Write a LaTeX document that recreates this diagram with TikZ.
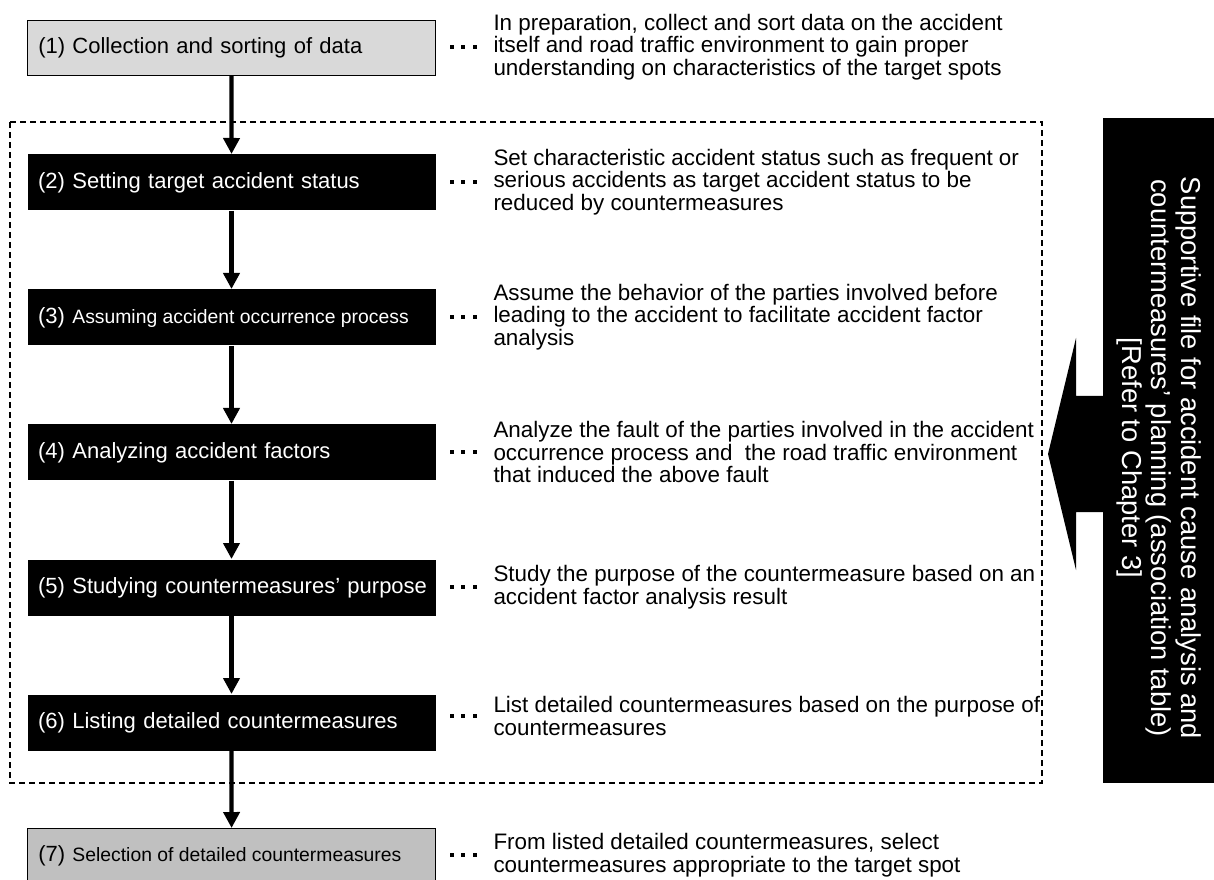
\documentclass[tikz,border=0pt]{standalone}
\usepackage{fontspec}
\setmainfont{Liberation Sans}
\usetikzlibrary{arrows.meta}
\definecolor{lightgrey}{HTML}{D9D9D9}
\definecolor{midgrey}{HTML}{C0C0C0}
\newcommand\subtext[1]{{\fontsize{14.5}{16}\selectfont\spaceskip=0pt\relax #1}}
\tikzset{every picture/.style={line width=0.75pt}}

\begin{document}
\begin{tikzpicture}[x=0.75pt,y=-0.75pt,
  stage/.style={anchor=north west, minimum width=306pt, minimum height=42pt,
    inner xsep=5pt, text width=296pt, align=left, font=\fontsize{16.5}{19}\selectfont},
  greystage/.style={stage, draw=black, line width=0.9pt},
  darkstage/.style={stage, fill=black, text=white},
  note/.style={anchor=west, align=left, inner sep=0pt, font=\fontsize{16.8}{17}\selectfont},
  flow/.style={line width=3.2pt, -{Triangle[width=12pt,length=12pt]}},
  sidetext/.style={rotate=-90, text=white, align=center, inner sep=0pt, font=\fontsize{20.5}{22}\selectfont}]
\useasboundingbox (0,0) rectangle (1214,880);
% frame around steps (2)-(6)
\draw[line width=1.1pt, dash pattern=on 4.5pt off 3pt] (10,122) rectangle (1042,783);
% steps
\node[greystage, fill=lightgrey, minimum height=41.25pt] (b1) at (27,20) {\hspace*{3pt}(1) Collection and sorting of data};
\node[darkstage] (b2) at (27,154) {\hspace*{3pt}(2) Setting target accident status};
\node[darkstage] (b3) at (27,289) {\hspace*{3pt}(3) \subtext{Assuming accident occurrence process}};
\node[darkstage] (b4) at (27,424) {\hspace*{3pt}(4) Analyzing accident factors};
\node[darkstage] (b5) at (27,559) {\hspace*{3pt}(5) Studying countermeasures’ purpose};
\node[darkstage] (b6) at (27,694) {\hspace*{3pt}(6) Listing detailed countermeasures};
\node[greystage, fill=midgrey, minimum height=40.5pt] (b7) at (27,828) {\hspace*{3pt}(7) \subtext{Selection of detailed countermeasures}};
\foreach \a/\b in {b1/b2,b2/b3,b3/b4,b4/b5,b5/b6,b6/b7}
  \draw[flow] (\a) -- (\b);
% explanations
\node[note] (d1) at (493,47) {In preparation, collect and sort data on the accident\\itself and road traffic environment to gain proper\\understanding on characteristics of the target spots};
\node[note] (d2) at (493,182) {Set characteristic accident status such as frequent or\\serious accidents as target accident status to be\\reduced by countermeasures};
\node[note] (d3) at (493,317) {Assume the behavior of the parties involved before\\leading to the accident to facilitate accident factor\\analysis};
\node[note] (d4) at (493,452) {Analyze the fault of the parties involved in the accident\\occurrence process and\ \ the road traffic environment\\that induced the above fault};
\node[note] (d5) at (493,587) {Study the purpose of the countermeasure based on an\\accident factor analysis result};
\node[note] (d6) at (493,716) {List detailed countermeasures based on the purpose of\\countermeasures};
\node[note] (d7) at (493,855) {From listed detailed countermeasures, select\\countermeasures appropriate to the target spot};
\foreach \n in {1,...,7}
  \foreach \dx in {-43,-32,-20}
    \fill ([xshift={\dx*0.75pt}, yshift=-1.5pt]d\n.west) rectangle +(4,-4);
% supporting file
\fill (1103,118) rectangle (1214,783);
\node[sidetext] (side) at (1159,458)
  {Supportive file for accident cause analysis and\\countermeasures’ planning (association table)\\{[}Refer to Chapter 3{]}};
\fill (1104,396) -- (1076,396) -- (1076,338) -- (1048,454) -- (1076,570) -- (1076,512) -- (1104,512) -- cycle;
\end{tikzpicture}
\end{document}
